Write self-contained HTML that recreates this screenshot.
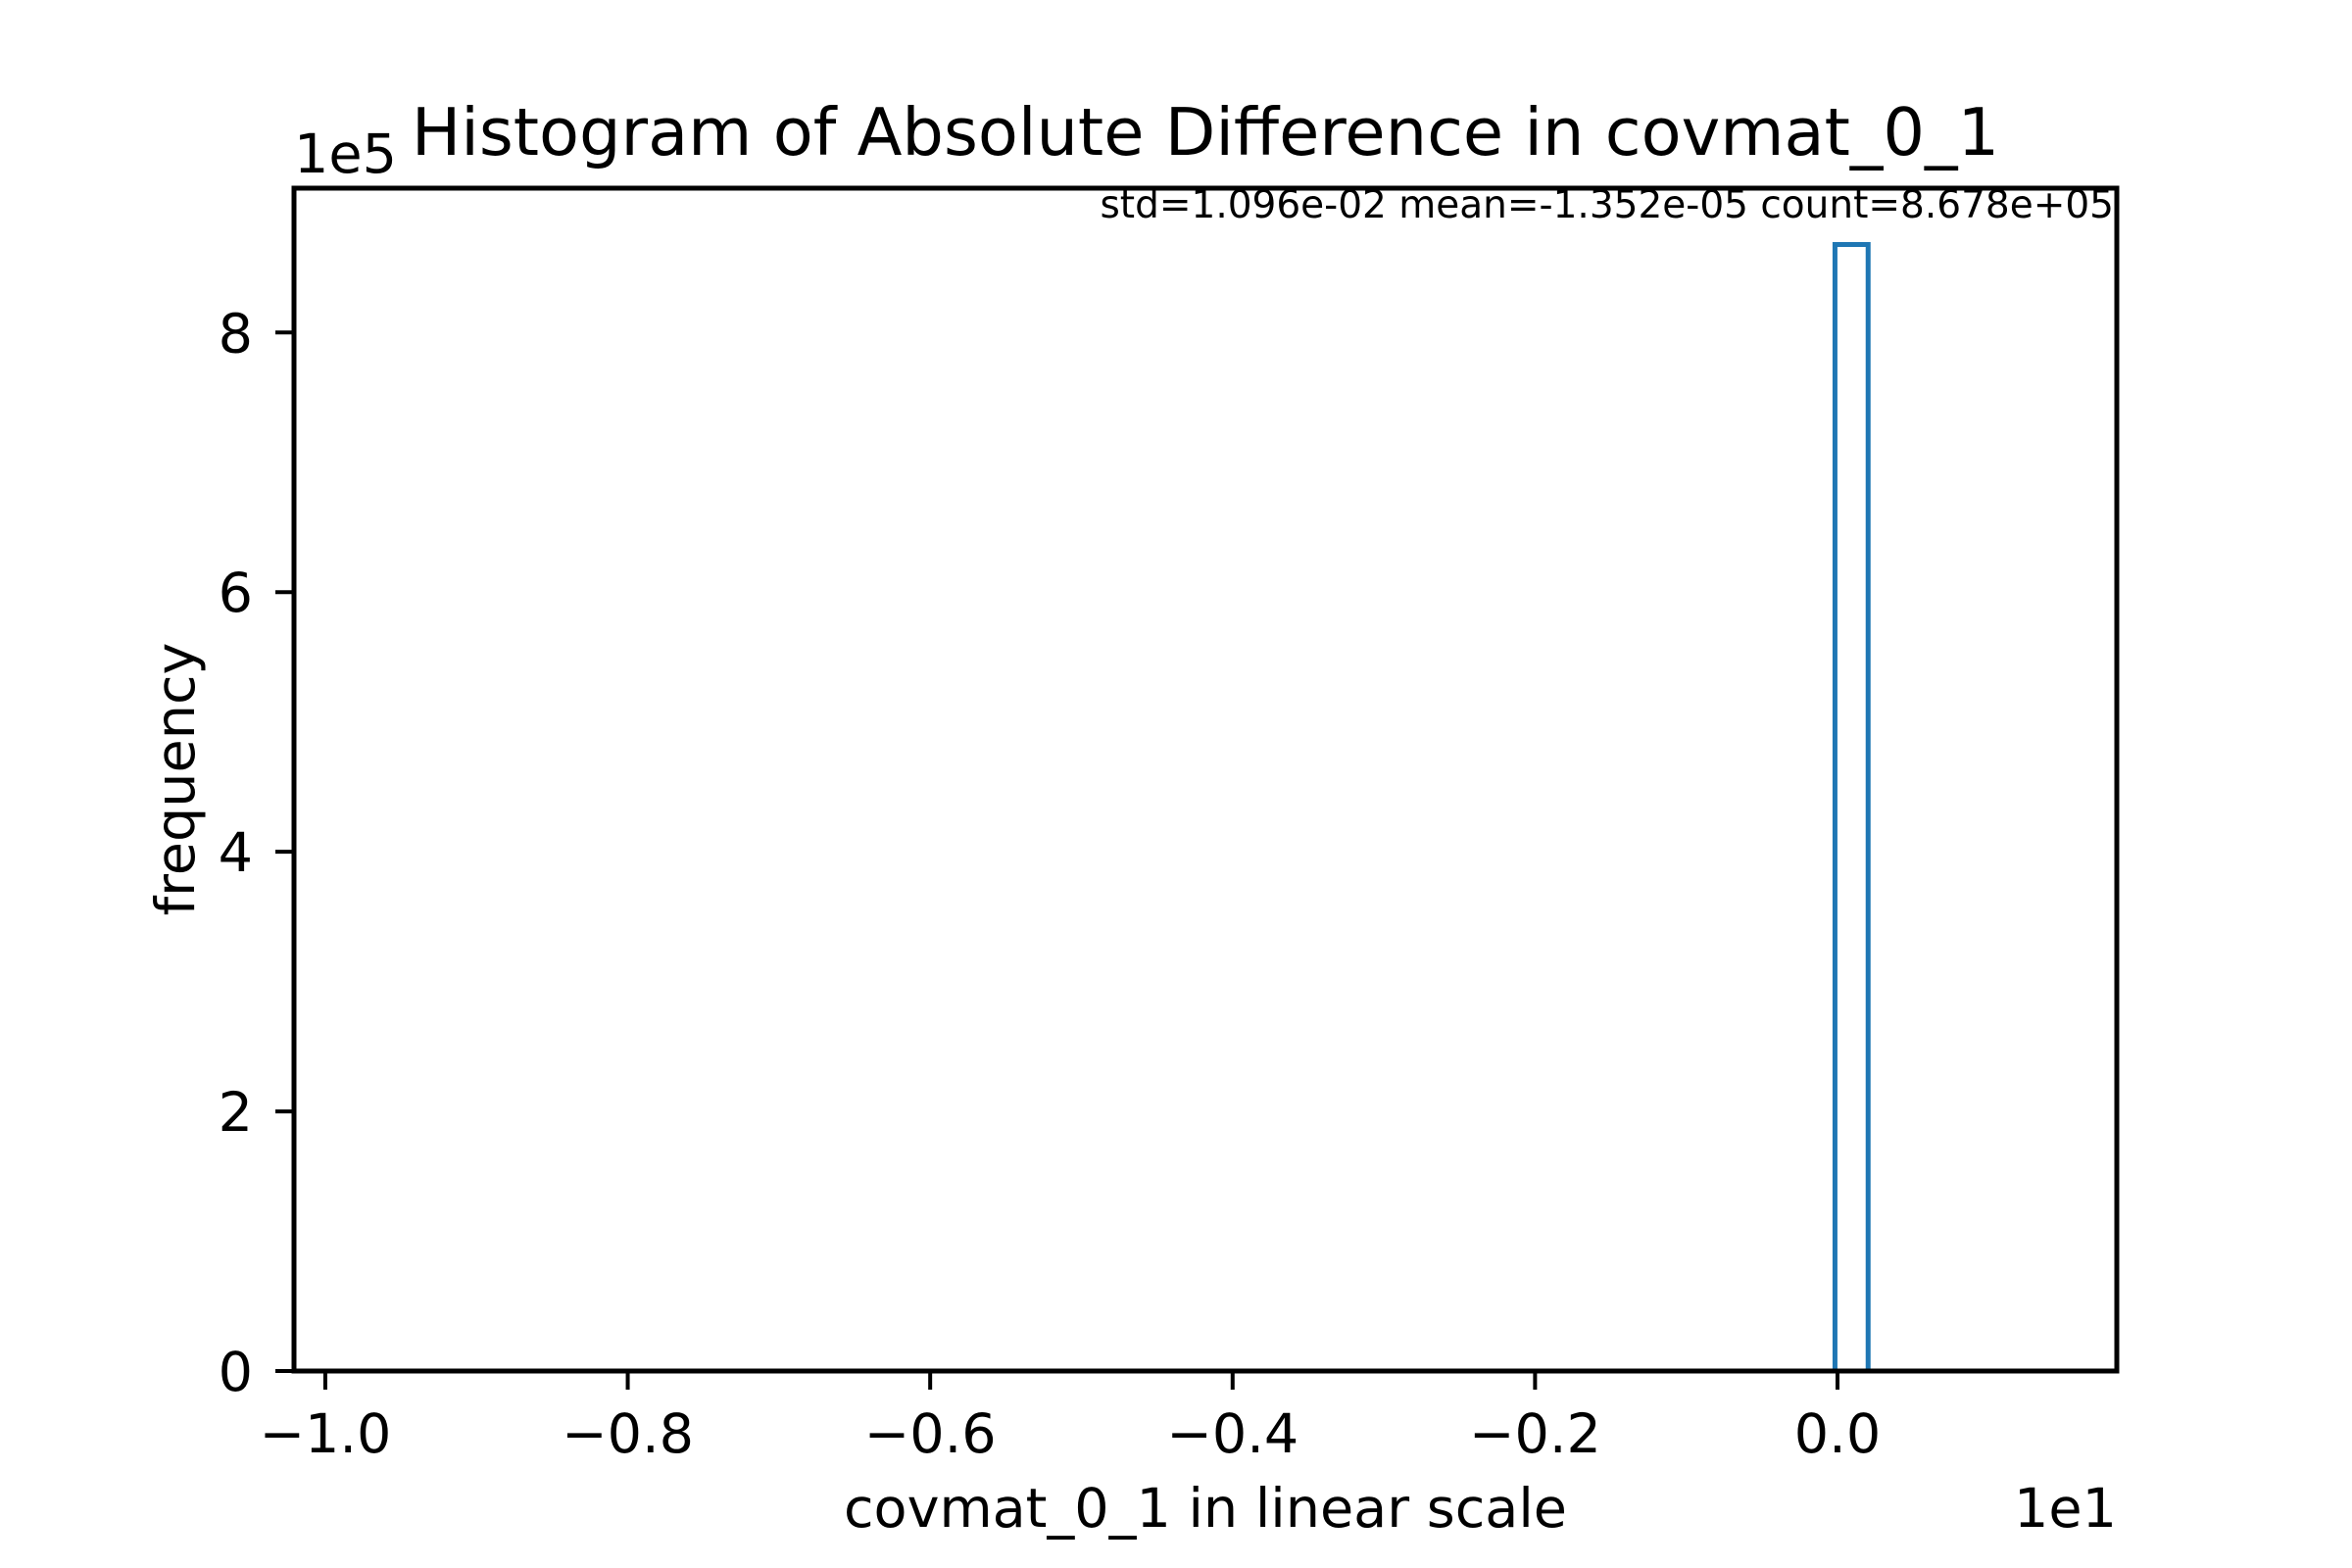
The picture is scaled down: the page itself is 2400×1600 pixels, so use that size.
<!DOCTYPE html>
<html><head><meta charset="utf-8"><style>
html,body{margin:0;padding:0;background:#fff;}
svg{display:block;font-family:"DejaVu Sans","Liberation Sans",sans-serif;}
</style></head><body>
<svg id="chart" width="2400" height="1600" viewBox="0 0 2400 1600" xmlns="http://www.w3.org/2000/svg">
<rect width="2400" height="1600" fill="#fff"/>
<text x="1230" y="158" font-size="67" text-anchor="middle">Histogram of Absolute Difference in covmat_0_1</text>
<text x="300" y="176" font-size="55.6">1e5</text>
<text x="2157" y="222" font-size="39" text-anchor="end">std=1.096e-02 mean=-1.352e-05 count=8.678e+05</text>
<text x="2160" y="1558" font-size="55.6" text-anchor="end">1e1</text>
<text x="1230" y="1558" font-size="55.6" text-anchor="middle">covmat_0_1 in linear scale</text>
<text transform="translate(198,795) rotate(-90)" font-size="55.6" text-anchor="middle">frequency</text>
<g id="plot"></g>
<rect x="300" y="192" width="1860" height="1207" fill="none" stroke="#000" stroke-width="5"/>
</svg>
<script>
const binStart = -0.9657;
const binWidth = 0.02191;
const counts = [0,0,0,0,0,0,0,0,0,0,0,0,0,0,0,0,0,0,0,0,0,0,0,0,0,0,0,0,0,0,0,0,0,0,0,0,0,0,0,0,0,0,0,0,8.678,0,0,0,0,0];
const xTicks = [-1.0,-0.8,-0.6,-0.4,-0.2,0.0];
const xTickLabels = ["\u22121.0","\u22120.8","\u22120.6","\u22120.4","\u22120.2","0.0"];
const yTicks = [0,2,4,6,8];
const yTickLabels = ["0","2","4","6","8"];

const L=300,R=2160,T=192,B=1399;
const xMin=-1.0207,xMax=0.1847,yMin=0,yMax=9.112;
const X=v=>L+(v-xMin)/(xMax-xMin)*(R-L);
const Y=v=>B-(v-yMin)/(yMax-yMin)*(B-T);
const NS="http://www.w3.org/2000/svg";
const g=document.getElementById('plot');
function mk(tag,attrs){const e=document.createElementNS(NS,tag);for(const k in attrs)e.setAttribute(k,attrs[k]);g.appendChild(e);return e;}

let d="M"+X(binStart)+","+Y(0);
counts.forEach((c,i)=>{const x0=X(binStart+i*binWidth),x1=X(binStart+(i+1)*binWidth);d+=" L"+x0+","+Y(c)+" L"+x1+","+Y(c);});
d+=" L"+X(binStart+counts.length*binWidth)+","+Y(0);
const p=mk('path',{d:d,fill:'none',stroke:'#1f77b4','stroke-width':5,'stroke-linejoin':'miter'});



xTicks.forEach((v,i)=>{
  const t=mk('line',{x1:X(v),x2:X(v),y1:B,y2:B+19,stroke:'#000','stroke-width':4});
  
  
  const l=mk('text',{x:X(v),y:1482,'font-size':55.6,'text-anchor':'middle'});
  l.textContent=xTickLabels[i];
  
  
});
yTicks.forEach((v,i)=>{
  const t=mk('line',{x1:L-19,x2:L,y1:Y(v),y2:Y(v),stroke:'#000','stroke-width':4});
  
  
  const l=mk('text',{x:258,y:Y(v)+20,'font-size':55.6,'text-anchor':'end'});
  l.textContent=yTickLabels[i];
  
  
});
</script>
</body></html>
